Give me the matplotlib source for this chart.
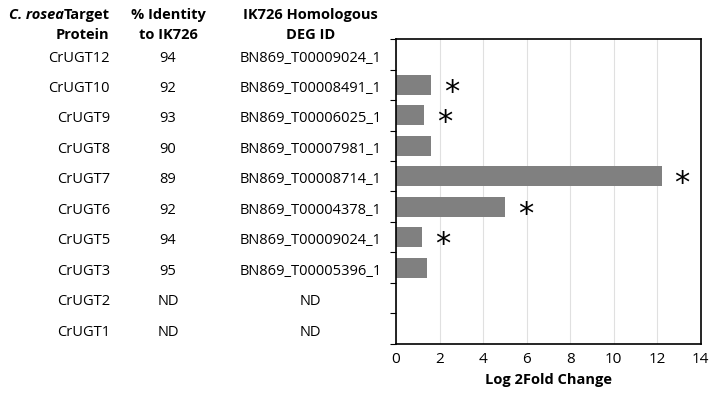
import matplotlib.pyplot as plt
from matplotlib.transforms import blended_transform_factory

plt.rcParams['font.family'] = 'Open Sans'

proteins = ['CrUGT12', 'CrUGT10', 'CrUGT9', 'CrUGT8', 'CrUGT7',
            'CrUGT6', 'CrUGT5', 'CrUGT3', 'CrUGT2', 'CrUGT1']
identity = ['94', '92', '93', '90', '89', '92', '94', '95', 'ND', 'ND']
deg_ids = ['BN869_T00009024_1', 'BN869_T00008491_1', 'BN869_T00006025_1',
           'BN869_T00007981_1', 'BN869_T00008714_1', 'BN869_T00004378_1',
           'BN869_T00009024_1', 'BN869_T00005396_1', 'ND', 'ND']
log2fc = [0, 1.6, 1.3, 1.6, 12.2, 5.0, 1.2, 1.4, 0, 0]
significant = [False, True, True, False, True, True, True, False, False, False]

fig = plt.figure(figsize=(7.15, 4.04), dpi=100)
ax = fig.add_axes([0.554, 0.149, 0.426, 0.754])

y = list(range(len(proteins)))
ax.barh(y, log2fc, height=0.65, color='#808080')
for yi, v, s in zip(y, log2fc, significant):
    if s:
        ax.text(v + 0.6, yi + 0.25, '*', fontsize=22, ha='left', va='center',
                fontfamily='DejaVu Sans')

ax.set_xlim(0, 14)
ax.set_ylim(len(proteins) - 0.5, -0.5)
ax.set_xticks(range(0, 15, 2))
ax.set_yticks([i + 0.5 for i in range(-1, len(proteins))])
ax.set_yticklabels([])
ax.tick_params(axis='y', length=4, direction='out')
ax.tick_params(axis='x', length=0, labelsize=11, pad=6)
ax.grid(axis='x', color='#e0e0e0', linewidth=0.8)
ax.set_axisbelow(True)
for sp in ax.spines.values():
    sp.set_linewidth(1.2)
ax.set_xlabel('Log 2Fold Change', fontsize=10.5, fontweight='bold')

tr = blended_transform_factory(fig.transFigure, ax.transData)
for yi, p, idn, d in zip(y, proteins, identity, deg_ids):
    ax.text(0.154, yi + 0.12, p, transform=tr, ha='right', va='center', fontsize=10.5)
    ax.text(0.235, yi + 0.12, idn, transform=tr, ha='center', va='center', fontsize=10.5)
    ax.text(0.434, yi + 0.12, d, transform=tr, ha='center', va='center', fontsize=10.5)

hb = dict(ha='center', va='center', fontsize=10.5, fontweight='bold')
fig.text(0.089, 0.963, 'C. rosea', ha='right', va='center', fontsize=10.5,
         fontweight='bold', fontstyle='italic')
fig.text(0.153, 0.963, 'Target', ha='right', va='center', fontsize=10.5, fontweight='bold')
fig.text(0.153, 0.913, 'Protein', ha='right', va='center', fontsize=10.5, fontweight='bold')
fig.text(0.235, 0.963, '% Identity', **hb)
fig.text(0.235, 0.913, 'to IK726', **hb)
fig.text(0.434, 0.963, 'IK726 Homologous', **hb)
fig.text(0.434, 0.913, 'DEG ID', **hb)

fig.savefig('out.png', dpi=100)
